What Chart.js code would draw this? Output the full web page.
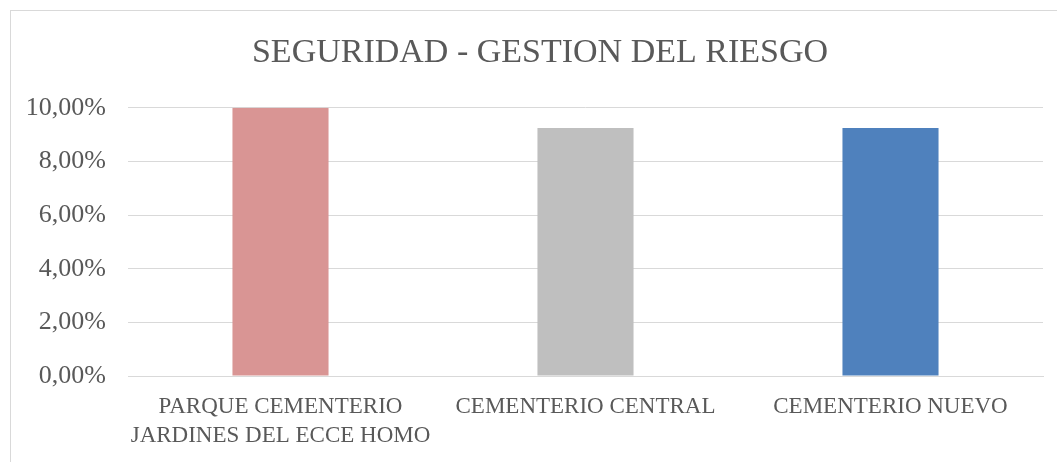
<!DOCTYPE html>
<html>
<head>
<meta charset="utf-8">
<script src="https://cdn.jsdelivr.net/npm/chart.js@4"></script>
<style>
  html, body { margin: 0; padding: 0; background: #fff; }
  #wrap { position: relative; width: 1057px; height: 462px; overflow: hidden; }
  #frame { position: absolute; left: 10px; top: 10px; width: 1100px; height: 500px; border: 1px solid #d9d9d9; box-sizing: border-box; }
  canvas { position: absolute; left: 0; top: 0; }
</style>
</head>
<body>
<div id="wrap">
  <div id="frame"></div>
  <canvas id="riskChart" width="1057" height="462"></canvas>
</div>
<script>
// chart data
const categories = [
  ['PARQUE CEMENTERIO', 'JARDINES DEL ECCE HOMO'],
  'CEMENTERIO CENTRAL',
  'CEMENTERIO NUEVO'
];
const values = [10, 9.25, 9.25];
const barColors = ['#D99594', '#BFBFBF', '#4F81BD'];
const titleText = 'SEGURIDAD - GESTION DEL RIESGO';

const textColor = '#595959';
const fontFamily = '"Liberation Serif", "DejaVu Serif", serif';
const titleFont = { family: fontFamily, size: 34, weight: 'normal' };

// the built-in title only reserves the space; this draws it centred on the frame
const frameTitle = {
  id: 'frameTitle',
  afterDraw(chart) {
    const block = chart.titleBlock;
    const c = chart.ctx;
    c.save();
    c.font = titleFont.size + 'px ' + fontFamily;
    c.fillStyle = textColor;
    c.textAlign = 'center';
    c.textBaseline = 'middle';
    const y = block.top + 33 + titleFont.size * 1.2 / 2;
    c.fillText(titleText, 540, y);
    c.restore();
  }
};

const ctx = document.getElementById('riskChart').getContext('2d');

const myChart = new Chart(ctx, {
  type: 'bar',
  data: {
    labels: categories,
    datasets: [{
      data: values,
      backgroundColor: barColors,
      borderWidth: 0,
      barPercentage: 0.315,
      categoryPercentage: 1
    }]
  },
  plugins: [frameTitle],
  options: {
    responsive: false,
    animation: false,
    layout: { padding: { top: 0, right: 14, bottom: 0, left: 0 } },
    plugins: {
      legend: { display: false },
      tooltip: { enabled: false },
      title: {
        display: true,
        text: titleText,
        color: 'rgba(0,0,0,0)',
        font: titleFont,
        padding: { top: 33, bottom: 34 }
      }
    },
    scales: {
      x: {
        grid: { display: false, drawTicks: false },
        border: { display: true, color: '#d9d9d9', width: 1 },
        ticks: {
          color: textColor,
          font: { family: fontFamily, size: 23, lineHeight: 1.25 },
          padding: 17,
          maxRotation: 0,
          autoSkip: false
        },
        afterFit: function (scale) { scale.height = 86; }
      },
      y: {
        min: 0,
        max: 10,
        grid: { color: '#d9d9d9', drawTicks: false },
        border: { display: false },
        ticks: {
          stepSize: 2,
          color: textColor,
          font: { family: fontFamily, size: 26 },
          padding: 22,
          callback: function (value) {
            return value.toFixed(2).replace('.', ',') + '%';
          }
        },
        afterFit: function (scale) { scale.width = 128; }
      }
    }
  }
});
</script>
</body>
</html>
